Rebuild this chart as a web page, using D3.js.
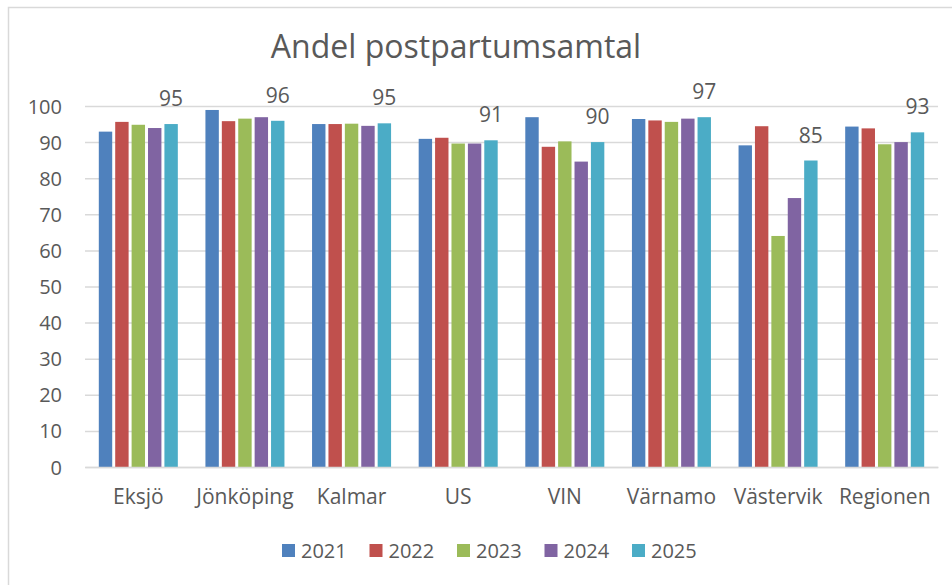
<!DOCTYPE html>
<html>
<head>
<meta charset="utf-8">
<script src="https://cdn.jsdelivr.net/npm/d3@7/dist/d3.min.js"></script>
<style>
  html, body { margin: 0; padding: 0; background: #fff; }
  svg { display: block; }
  text { font-family: "Open Sans", Lato, sans-serif; fill: #595959; }
</style>
</head>
<body>
<svg id="chart" width="952" height="585"></svg>
<script>
const categories = ["Eksjö", "Jönköping", "Kalmar", "US", "VIN", "Värnamo", "Västervik", "Regionen"];
const series = ["2021", "2022", "2023", "2024", "2025"];
const colors = ["#4F81BD", "#C0504D", "#9BBB59", "#8064A2", "#4BACC6"];
const v2021 = [92.9, 98.9, 95.0, 90.9, 96.9, 96.4, 89.1, 94.3];
const v2022 = [95.6, 95.8, 95.0, 91.2, 88.7, 96.0, 94.4, 93.8];
const v2023 = [94.8, 96.5, 95.1, 89.6, 90.2, 95.6, 64.0, 89.4];
const v2024 = [93.9, 96.9, 94.5, 89.6, 84.6, 96.5, 74.5, 90.0];
const v2025 = [95.0, 95.9, 95.2, 90.5, 90.0, 96.9, 84.9, 92.7];
const labels2025 = ["95", "96", "95", "91", "90", "97", "85", "93"];
const yTicks = [0, 10, 20, 30, 40, 50, 60, 70, 80, 90, 100];
const title = "Andel postpartumsamtal";

const values = [v2021, v2022, v2023, v2024, v2025];

const svg = d3.select("#chart");

// outer chart frame
svg.append("rect")
  .attr("x", 8.5).attr("y", 7.5).attr("width", 960).attr("height", 600)
  .attr("fill", "none").attr("stroke", "#d9d9d9").attr("stroke-width", 1.5);

const pLeft = 85, pRight = 938, pTop = 106, pBottom = 467;

const y = d3.scaleLinear().domain([0, 100]).range([pBottom, pTop]);
const x0 = d3.scaleBand().domain(categories).range([pLeft, pRight]).padding(0);
const bw = x0.bandwidth();
const groupOffset = bw * 0.75 / 6.5;
const x1 = d3.scaleBand().domain(series).range([0, bw * 5 / 6.5]).padding(0);

// gridlines
const grid = svg.append("g")
  .attr("transform", `translate(${pLeft},0)`)
  .call(d3.axisLeft(y).tickValues(yTicks).tickSize(-(pRight - pLeft)).tickFormat(""));
grid.select(".domain").remove();
grid.selectAll("line").attr("stroke", "#d9d9d9").attr("stroke-width", 1.5);

// y axis labels
const yAxis = svg.append("g")
  .attr("transform", `translate(62,0)`)
  .call(d3.axisLeft(y).tickValues(yTicks).tickSize(0).tickPadding(0));
yAxis.select(".domain").remove();
yAxis.selectAll("text").style("font-size", "20px").attr("fill", "#595959").attr("dy", "0.35em");

// bars
const groups = svg.append("g").selectAll("g")
  .data(categories)
  .join("g")
  .attr("transform", d => `translate(${x0(d) + groupOffset},0)`);

groups.selectAll("rect")
  .data((c, i) => series.map((s, j) => ({ s, j, v: values[j][i] })))
  .join("rect")
  .attr("x", d => x1(d.s) + 1.5)
  .attr("y", d => y(d.v))
  .attr("width", x1.bandwidth() - 3)
  .attr("height", d => y(0) - y(d.v))
  .attr("fill", d => colors[d.j]);

// x axis
const xAxis = svg.append("g")
  .attr("transform", `translate(0,${pBottom})`)
  .call(d3.axisBottom(x0).tickSize(0).tickPadding(22));
xAxis.select(".domain").attr("stroke", "#d9d9d9").attr("stroke-width", 1.5);
xAxis.selectAll("text").style("font-size", "21px").attr("fill", "#595959");

// value labels for 2025
svg.append("g").selectAll("text")
  .data(categories)
  .join("text")
  .attr("x", (c) => x0(c) + groupOffset + x1("2025") + x1.bandwidth() / 2)
  .attr("y", (c, i) => y(v2025[i]) - 18)
  .attr("text-anchor", "middle")
  .style("font-size", "21px")
  .text((c, i) => labels2025[i]);

// title
svg.append("text")
  .attr("x", 456).attr("y", 58)
  .attr("text-anchor", "middle")
  .style("font-size", "32px")
  .text(title);

// legend
const legendX = d3.scalePoint().domain(series).range([282, 632]);
const lg = svg.append("g").selectAll("g")
  .data(series)
  .join("g")
  .attr("transform", d => `translate(${legendX(d)},544)`);
lg.append("rect").attr("width", 13).attr("height", 13).attr("fill", (d, i) => colors[i]);
lg.append("text").attr("x", 19).attr("y", 14).style("font-size", "20px").text(d => d);
</script>
</body>
</html>
